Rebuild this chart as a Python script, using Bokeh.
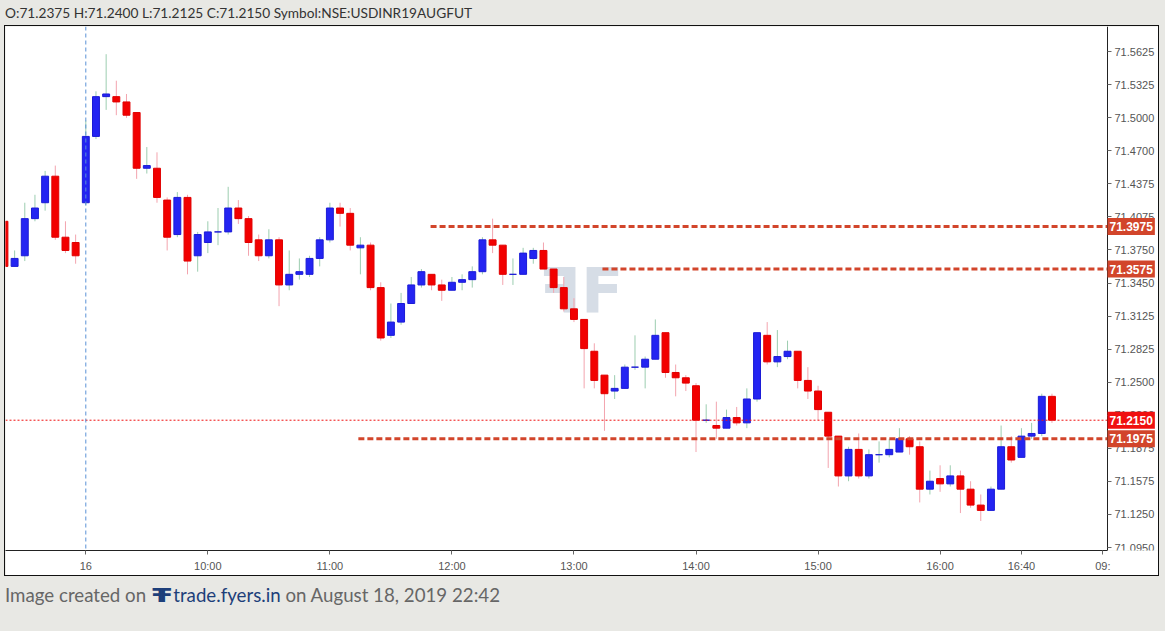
from bokeh.plotting import figure
from bokeh.models import ColumnDataSource, FixedTicker, Label, Div, Span
from bokeh.layouts import column
from bokeh.embed import file_html
from bokeh.resources import INLINE

# ---------------- data ----------------
symbol = "NSE:USDINR19AUGFUT"
first_index = -8  # candles are indexed in 5-minute steps, 0 = 16 Aug 09:00

opens = [71.4025, 71.3600, 71.3700, 71.4050, 71.4200, 71.4450, 71.3875, 71.3825,
         71.4200, 71.4825, 71.5200, 71.5200, 71.5150, 71.5050, 71.4525, 71.4525,
         71.4225, 71.3900, 71.4250, 71.3700, 71.3825, 71.3925, 71.3925, 71.4150,
         71.4050, 71.3850, 71.3700, 71.3850, 71.3425, 71.3525, 71.3525, 71.3675,
         71.3850, 71.4150, 71.4100, 71.3775, 71.3800, 71.3400, 71.2950, 71.3075,
         71.3250, 71.3425, 71.3525, 71.3425, 71.3375, 71.3450, 71.3475, 71.3550,
         71.3850, 71.3800, 71.3525, 71.3525, 71.3675, 71.3750, 71.3575, 71.3400,
         71.3200, 71.3100, 71.2800, 71.2575, 71.2425, 71.2450, 71.2650, 71.2650,
         71.2725, 71.2975, 71.2600, 71.2550, 71.2475, 71.2150, 71.2100, 71.2075,
         71.2175, 71.2125, 71.2350, 71.2950, 71.2700, 71.2750, 71.2800, 71.2525,
         71.2425, 71.2225, 71.2000, 71.1625, 71.1875, 71.1625, 71.1825, 71.1825,
         71.1850, 71.1975, 71.1900, 71.1500, 71.1600, 71.1550, 71.1625, 71.1500,
         71.1350, 71.1300, 71.1500, 71.1900, 71.1800, 71.2000, 71.2025, 71.2375]
highs = [71.4025, 71.3750, 71.4200, 71.4275, 71.4500, 71.4550, 71.4025, 71.3900,
         71.4975, 71.5250, 71.5600, 71.5350, 71.5225, 71.5050, 71.4725, 71.4675,
         71.4250, 71.4300, 71.4275, 71.3925, 71.4025, 71.4150, 71.4350, 71.4225,
         71.4075, 71.3900, 71.3950, 71.3875, 71.3750, 71.3675, 71.3700, 71.3875,
         71.4200, 71.4200, 71.4150, 71.3875, 71.3825, 71.3450, 71.3250, 71.3350,
         71.3500, 71.3575, 71.3525, 71.3475, 71.3500, 71.3525, 71.3600, 71.3875,
         71.4050, 71.3800, 71.3675, 71.3775, 71.3775, 71.3825, 71.3575, 71.3500,
         71.3300, 71.3100, 71.2875, 71.2575, 71.2575, 71.2675, 71.2950, 71.2750,
         71.3100, 71.2975, 71.2675, 71.2575, 71.2500, 71.2300, 71.2325, 71.2250,
         71.2275, 71.2450, 71.2975, 71.3075, 71.3000, 71.2900, 71.2800, 71.2650,
         71.2475, 71.2225, 71.2000, 71.1900, 71.2025, 71.1875, 71.1950, 71.1975,
         71.2075, 71.2000, 71.1950, 71.1675, 71.1725, 71.1725, 71.1675, 71.1575,
         71.1450, 71.1525, 71.2100, 71.2000, 71.2075, 71.2125, 71.2400, 71.2400]
lows = [71.3600, 71.3600, 71.3650, 71.4025, 71.4125, 71.3850, 71.3725, 71.3625,
        71.4175, 71.4800, 71.5075, 71.5025, 71.5000, 71.4425, 71.4475, 71.4200,
        71.3750, 71.3875, 71.3525, 71.3550, 71.3725, 71.3800, 71.3900, 71.4000,
        71.3700, 71.3650, 71.3675, 71.3225, 71.3375, 71.3475, 71.3500, 71.3600,
        71.3825, 71.3975, 71.3750, 71.3525, 71.3375, 71.2900, 71.2925, 71.3050,
        71.3250, 71.3400, 71.3375, 71.3275, 71.3375, 71.3375, 71.3400, 71.3525,
        71.3725, 71.3425, 71.3425, 71.3525, 71.3625, 71.3575, 71.3350, 71.3175,
        71.3075, 71.2450, 71.2450, 71.2050, 71.2350, 71.2450, 71.2625, 71.2450,
        71.2725, 71.2550, 71.2375, 71.2425, 71.1850, 71.2125, 71.1975, 71.2075,
        71.2100, 71.2075, 71.2325, 71.2675, 71.2650, 71.2725, 71.2450, 71.2350,
        71.2150, 71.1700, 71.1525, 71.1575, 71.1600, 71.1600, 71.1750, 71.1800,
        71.1850, 71.1825, 71.1375, 71.1450, 71.1475, 71.1525, 71.1275, 71.1325,
        71.1200, 71.1300, 71.1500, 71.1750, 71.1800, 71.1975, 71.2000, 71.2125]
closes = [71.3600, 71.3675, 71.4050, 71.4150, 71.4450, 71.3875, 71.3750, 71.3700,
          71.4825, 71.5200, 71.5225, 71.5150, 71.5025, 71.4525, 71.4550, 71.4250,
          71.3875, 71.4250, 71.3650, 71.3900, 71.3925, 71.3925, 71.4150, 71.4050,
          71.3825, 71.3700, 71.3850, 71.3425, 71.3525, 71.3550, 71.3675, 71.3850,
          71.4150, 71.4100, 71.3800, 71.3800, 71.3400, 71.2925, 71.3075, 71.3250,
          71.3425, 71.3550, 71.3425, 71.3375, 71.3450, 71.3475, 71.3550, 71.3850,
          71.3800, 71.3525, 71.3525, 71.3725, 71.3750, 71.3575, 71.3400, 71.3200,
          71.3100, 71.2825, 71.2525, 71.2400, 71.2450, 71.2650, 71.2650, 71.2725,
          71.2950, 71.2600, 71.2550, 71.2500, 71.2150, 71.2150, 71.2075, 71.2175,
          71.2125, 71.2350, 71.2975, 71.2700, 71.2750, 71.2800, 71.2525, 71.2425,
          71.2250, 71.2000, 71.1625, 71.1875, 71.1625, 71.1825, 71.1825, 71.1875,
          71.1975, 71.1900, 71.1500, 71.1575, 71.1550, 71.1625, 71.1500, 71.1350,
          71.1300, 71.1500, 71.1900, 71.1775, 71.2000, 71.2025, 71.2375, 71.2150]

x_tick_positions = [0, 12, 24, 36, 48, 60, 72, 84, 92, 100]
x_tick_labels = ["16", "10:00", "11:00", "12:00", "13:00", "14:00", "15:00",
                 "16:00", "16:40", "09:"]
y_tick_labels = ["71.0950", "71.1250", "71.1575", "71.1875", "71.2200", "71.2500",
                 "71.2825", "71.3125", "71.3450", "71.3750", "71.4075", "71.4375",
                 "71.4700", "71.5000", "71.5325", "71.5625"]

level_prices = [71.3975, 71.3575, 71.1975]
level_starts = [33.9, 50.8, 26.8]

# ---------------- styling ----------------
UP_BODY, UP_EDGE, UP_WICK = "#2424f2", "#1b1bd6", "#9ccdb0"
DN_BODY, DN_EDGE, DN_WICK = "#f20000", "#e00000", "#f3a4ae"
LEVEL_COLOR = "#d2452b"
LAST_COLOR = "#f01010"
BG = "#e8e8e4"
AXIS_FONT = "Liberation Sans"

# plotting area runs to the outer frame; price axis sits at axis_x
x_start, axis_x, x_end = -7.896, 100.46, 105.476
y_start, y_end = 71.0922, 71.5861

xs = [first_index + i for i in range(len(opens))]
up = [c >= o for o, c in zip(opens, closes)]
src = ColumnDataSource(dict(
    x=xs, open=opens, high=highs, low=lows, close=closes,
    top=[max(o, c) for o, c in zip(opens, closes)],
    bottom=[min(o, c) for o, c in zip(opens, closes)],
    body=[UP_BODY if u else DN_BODY for u in up],
    edge=[UP_EDGE if u else DN_EDGE for u in up],
    wick=[UP_WICK if u else DN_WICK for u in up],
))

p = figure(frame_width=1153, frame_height=524,
           x_range=(x_start, x_end), y_range=(y_start, y_end),
           output_backend="svg", toolbar_location=None,
           y_axis_location="right",
           min_border_left=0, min_border_top=0,
           min_border_right=0, min_border_bottom=25,
           background_fill_color="white", border_fill_color="white",
           outline_line_color=None)
p.margin = (0, 0, 0, 5)
p.styles = {"outline": "1px solid #111"}
p.xgrid.visible = False
p.ygrid.visible = False

# watermark
p.add_layout(Label(x=48.7, y=71.3375, text="ꟻF", text_font="DejaVu Sans",
                   text_font_size="62px", text_font_style="bold",
                   text_color="#c5cedc", text_alpha=0.7,
                   text_align="center", text_baseline="middle", level="underlay"))

# vertical day separator
p.add_layout(Span(location=0, dimension="height", line_color="#5a92d6",
                  line_dash="4 3", line_width=1))

# candles
p.segment(x0="x", y0="high", x1="x", y1="low", color="wick", line_width=1, source=src)
p.vbar(x="x", top="top", bottom="bottom", width=0.68, fill_color="body",
       line_color="edge", line_width=1, source=src)

# level lines
p.segment(x0=level_starts, y0=level_prices, x1=[axis_x] * len(level_prices),
          y1=level_prices, line_color=LEVEL_COLOR, line_width=3, line_dash="6 3")

# last price line
p.segment(x0=[x_start], y0=[closes[-1]], x1=[axis_x], y1=[closes[-1]],
          line_color=LAST_COLOR, line_dash="2 2", line_width=1)

# axes
ax = p.xaxis[0]
ax.ticker = FixedTicker(ticks=x_tick_positions)
ax.major_label_overrides = {t: l for t, l in zip(x_tick_positions, x_tick_labels)}
ax.bounds = (x_start, axis_x)
ax.minor_tick_line_color = None
ax.major_tick_out = 4
ax.major_tick_in = 0
ax.major_tick_line_color = "#666"
ax.axis_line_color = "#222"
ax.major_label_text_font = AXIS_FONT
ax.major_label_text_font_size = "11px"
ax.major_label_text_color = "#555"
ax.major_label_standoff = 5

n = len(y_tick_labels)
y_ticks = [float(y_tick_labels[0]) + k * (float(y_tick_labels[-1]) - float(y_tick_labels[0])) / (n - 1)
           for k in range(n)]
ay = p.yaxis[0]
ay.fixed_location = axis_x
ay.ticker = FixedTicker(ticks=y_ticks)
ay.major_label_overrides = {t: l for t, l in zip(y_ticks, y_tick_labels)}
ay.minor_tick_line_color = None
ay.major_tick_out = 4
ay.major_tick_in = 0
ay.major_tick_line_color = "#666"
ay.axis_line_color = "#222"
ay.major_label_text_font = AXIS_FONT
ay.major_label_text_font_size = "11px"
ay.major_label_text_color = "#555"
ay.major_label_standoff = 3

# price boxes on the right axis
for price, color in [(level_prices[0], LEVEL_COLOR), (level_prices[1], LEVEL_COLOR),
                     (closes[-1], LAST_COLOR), (level_prices[2], LEVEL_COLOR)]:
    p.add_layout(Label(x=axis_x, y=price, text=f"{price:.4f}", text_font=AXIS_FONT,
                       text_font_size="12px", text_font_style="bold",
                       text_color="white", text_align="left", text_baseline="middle",
                       background_fill_color=color, padding=(2, 4)))

header_text = (f"O:{opens[-1]:.4f} H:{highs[-1]:.4f} L:{lows[-1]:.4f} "
               f"C:{closes[-1]:.4f} Symbol:{symbol}")
header = Div(text=f'<div style="font-family:Lato;font-size:13.7px;color:#333;'
                  f'line-height:25px;padding-left:5px;white-space:nowrap">{header_text}</div>',
             width=1165, height=26, margin=0)

footer = Div(text='<div style="font-family:Lato;font-size:18.7px;color:#666;'
                  'padding-left:5px;padding-top:8px;line-height:24px;white-space:nowrap">'
                  'Image created on <span style="color:#1d3f7a;font-weight:900;'
                  'font-family:DejaVu Sans;letter-spacing:-4px">ꟻF</span> '
                  '<span style="color:#1d3f7a">trade.fyers.in</span> on August 18, 2019 22:42</div>',
             width=1165, height=56, margin=0)

layout = column(header, p, footer, spacing=0, styles={"background-color": BG})

open("out.html", "w").write(file_html(layout, INLINE))
